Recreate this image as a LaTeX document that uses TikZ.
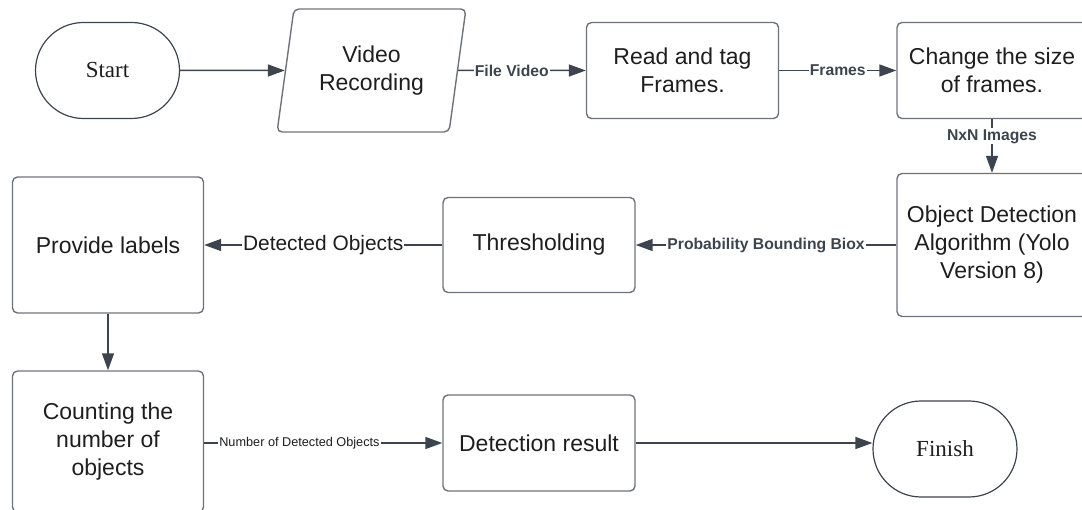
\documentclass[tikz,border=0pt]{standalone}
\usepackage{fontspec}
\setmainfont{Liberation Sans}
\newfontfamily\termfont{Liberation Serif}
\usetikzlibrary{arrows.meta,shapes.geometric,shapes.misc}
\definecolor{boxline}{HTML}{6E737A}
\definecolor{linkline}{HTML}{3D444D}
\definecolor{txt}{HTML}{1E1E1E}
\tikzset{
  box/.style={draw=boxline, line width=1.4pt, rounded corners=5pt, text=txt, align=center,
    inner sep=0pt, font=\fontsize{23}{28}\selectfont},
  term/.style={draw=linkline, line width=1.2pt, rounded rectangle, text=txt,
    font=\termfont\fontsize{23}{28}\selectfont, minimum width=144pt, minimum height=96pt, inner sep=0pt},
  io/.style={box, trapezium, trapezium left angle=77, trapezium right angle=103, trapezium stretches=true},
  link/.style={color=linkline, line width=1.5pt, -{Triangle[length=17pt,width=12pt]}},
  lbl/.style={fill=white, inner sep=1pt, text=linkline, font=\bfseries\fontsize{15.7}{18}\selectfont},
}
\begin{document}
\begin{tikzpicture}[x=1pt,y=-1pt]
\useasboundingbox (0,0) rectangle (1082,510);
\node[term] (start) at (107.5,70.5) {Start};
\node[io, minimum width=189pt, minimum height=123pt] (video) at (371.5,70.5) {Video\\Recording};
\node[box, minimum width=192pt, minimum height=96pt] (read) at (682.5,70.5) {Read and tag\\Frames.};
\node[box, minimum width=190pt, minimum height=96pt] (resize) at (992,70.5) {Change the size\\of frames.};
\node[box, minimum width=190pt, minimum height=143pt] (detect) at (992,245) {Object Detection\\Algorithm (Yolo\\Version 8)};
\node[box, minimum width=192pt, minimum height=95pt] (thresh) at (539,245) {Thresholding};
\node[box, minimum width=191pt, minimum height=136pt] (labels) at (108,245) {Provide labels};
\node[box, minimum width=191pt, minimum height=141pt] (count) at (108,441.5) {Counting the\\number of\\objects};
\node[box, minimum width=192pt, minimum height=96pt] (result) at (539,443) {Detection result};
\node[term] (finish) at (945,449) {Finish};

\path [link] (start) edge (video);
\path [link] (video) edge node[lbl,pos=0.42] {File Video} (read);
\path [link] (read) edge node[lbl] {Frames} (resize);
\path [link] (resize) edge node[lbl,pos=0.32] {NxN Images} (detect);
\path [link] (detect) edge node[lbl] {Probability Bounding Biox} (thresh);
\path [link] (thresh) edge node[lbl,text=txt,font=\fontsize{20.9}{24}\selectfont] {Detected Objects} (labels);
\path [link] (labels) edge (count);
\path [link] (count.east |- result.west) edge node[lbl,pos=0.4,text=txt,font=\fontsize{12.7}{15}\selectfont] {Number of Detected Objects} (result.west);
\path [link] (result.east) edge (result.east -| finish.west);
\end{tikzpicture}
\end{document}
